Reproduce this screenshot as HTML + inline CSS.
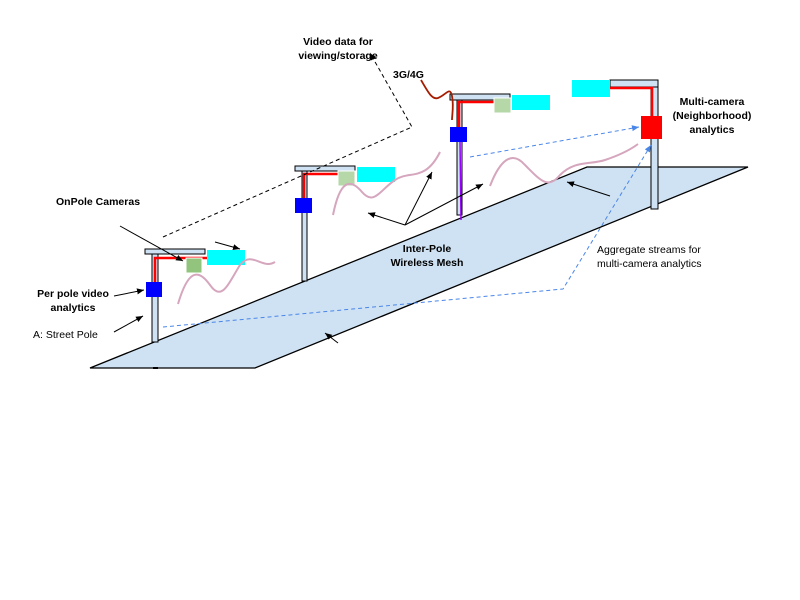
<!DOCTYPE html>
<html><head><meta charset="utf-8"><style>
html,body{margin:0;padding:0;background:#fff;width:800px;height:600px;overflow:hidden}
text{font-family:"Liberation Sans",Arial,sans-serif;font-size:10.5px;fill:#000}
.b{font-weight:bold}
</style></head><body>
<svg width="800" height="600" viewBox="0 0 800 600">
<defs>
<marker id="ah" markerWidth="8" markerHeight="8" refX="7" refY="4" orient="auto" markerUnits="userSpaceOnUse"><path d="M0,1 L7,4 L0,7 z" fill="#000"/></marker>
<marker id="ab" markerWidth="8" markerHeight="8" refX="7" refY="4" orient="auto" markerUnits="userSpaceOnUse"><path d="M0,1 L7,4 L0,7 z" fill="#4a86e8"/></marker>
</defs>
<polygon points="90,368 255,368 748,167 587,167" fill="#cfe2f3" stroke="#000" stroke-width="1.3"/>
<rect x="153" y="367" width="5" height="2" fill="#000"/>
<g>
<rect x="152" y="254" width="6" height="88" fill="#cfe2f3" stroke="#000"/>
<rect x="145" y="249" width="60" height="5" fill="#cfe2f3" stroke="#000"/>
<path d="M155,284 V258 H207" fill="none" stroke="#f00" stroke-width="2.5"/>
<rect x="146" y="282" width="16" height="15" fill="#00f"/>
<rect x="186" y="258" width="16" height="15" fill="#93c47d" stroke="#fff"/>
<rect x="207" y="250" width="38" height="15" fill="#0ff"/>
</g>
<g>
<rect x="302" y="171" width="5" height="110" fill="#cfe2f3" stroke="#000"/>
<rect x="295" y="166" width="60" height="5" fill="#cfe2f3" stroke="#000"/>
<path d="M304,200 V174 H347" fill="none" stroke="#f00" stroke-width="2.5"/>
<rect x="295" y="198" width="17" height="15" fill="#00f"/>
<rect x="338" y="171" width="17" height="15" fill="#b6d7a8" stroke="#fff"/>
<rect x="357" y="167" width="38" height="15" fill="#0ff"/>
</g>
<g>
<rect x="457" y="100" width="5" height="115" fill="#cfe2f3" stroke="#000"/>
<rect x="450" y="94" width="60" height="6" fill="#cfe2f3" stroke="#000"/>
<path d="M459,127 V102 H494" fill="none" stroke="#f00" stroke-width="2.5"/>
<line x1="460" y1="141" x2="461" y2="220" stroke="#9900ff" stroke-width="1.5"/>
<rect x="450" y="127" width="17" height="15" fill="#00f"/>
<rect x="494" y="98" width="17" height="15" fill="#b6d7a8" stroke="#fff"/>
<rect x="512" y="95" width="38" height="15" fill="#0ff"/>
<path d="M421,80 C428,92 432,100 438,98 C446,95 450,86 452,96 C454,106 452,115 452,120" fill="none" stroke="#a61c00" stroke-width="1.8"/>
</g>
<g>
<rect x="651" y="86" width="7" height="123" fill="#cfe2f3" stroke="#000"/>
<rect x="610" y="80" width="48" height="7" fill="#cfe2f3" stroke="#000"/>
<path d="M608,88 H652 V117" fill="none" stroke="#f00" stroke-width="2.5"/>
<rect x="641" y="116" width="21" height="23" fill="#f00"/>
<rect x="572" y="80" width="38" height="17" fill="#0ff"/>
</g>
<g fill="none" stroke="#d5a6bd" stroke-width="2">
<path d="M178,304 C188,270 198,268 210,285 C222,302 228,284 240,265 C252,250 262,270 275,262"/>
<path d="M333,215 C340,180 350,178 362,192 C374,206 380,190 395,180 C410,170 425,182 440,152"/>
<path d="M490,186 C500,160 512,150 525,165 C540,180 548,190 560,175 C575,160 590,165 605,160 C620,155 630,150 638,144"/>
</g>
<g stroke="#000" stroke-width="1" fill="none">
<line x1="120" y1="226" x2="183" y2="261" marker-end="url(#ah)"/>
<line x1="215" y1="242" x2="240" y2="249" marker-end="url(#ah)"/>
<line x1="114" y1="296" x2="144" y2="290" marker-end="url(#ah)"/>
<line x1="114" y1="332" x2="143" y2="316" marker-end="url(#ah)"/>
<line x1="405" y1="225" x2="368" y2="213" marker-end="url(#ah)"/>
<line x1="405" y1="225" x2="432" y2="172" marker-end="url(#ah)"/>
<line x1="405" y1="225" x2="483" y2="184" marker-end="url(#ah)"/>
<line x1="338" y1="343" x2="325" y2="333" marker-end="url(#ah)"/>
<line x1="610" y1="196" x2="567" y2="182" marker-end="url(#ah)"/>
<path d="M163,237 L412,127 L370,53" stroke-dasharray="4,3" marker-end="url(#ah)"/>
</g>
<g stroke="#4a86e8" stroke-width="1" fill="none" stroke-dasharray="4,3">
<line x1="470" y1="157" x2="639" y2="127" marker-end="url(#ab)"/>
<path d="M163,327 L563,289 L651,145" marker-end="url(#ab)"/>
</g>
<text class="b" x="338" y="45" text-anchor="middle">Video data for</text>
<text class="b" x="338" y="59" text-anchor="middle">viewing/storage</text>
<text class="b" x="393" y="78">3G/4G</text>
<text class="b" x="56" y="205">OnPole Cameras</text>
<text class="b" x="73" y="297" text-anchor="middle">Per pole video</text>
<text class="b" x="73" y="311" text-anchor="middle">analytics</text>
<text x="33" y="338">A: Street Pole</text>
<text class="b" x="427" y="252" text-anchor="middle">Inter-Pole</text>
<text class="b" x="427" y="266" text-anchor="middle">Wireless Mesh</text>
<text class="b" x="712" y="105" text-anchor="middle">Multi-camera</text>
<text class="b" x="712" y="119" text-anchor="middle">(Neighborhood)</text>
<text class="b" x="712" y="133" text-anchor="middle">analytics</text>
<text x="597" y="253">Aggregate streams for</text>
<text x="597" y="267">multi-camera analytics</text>
</svg>
</body></html>
